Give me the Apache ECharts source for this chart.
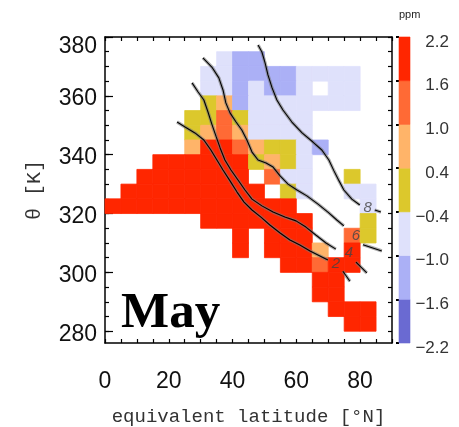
<!DOCTYPE html>
<html><head><meta charset="utf-8">
<script src="https://cdn.jsdelivr.net/npm/echarts@6/dist/echarts.min.js"></script>
<style>html,body{margin:0;padding:0;background:#fff}#c{width:459px;height:427px}</style>
</head><body><div id="c"></div>
<script>
// ---- data ----
const n = null, R = 1.9, O = 1.3, P = 0.7, Y = 0.0, L = -0.7, B = -1.3;
const latEdges = [0,5,10,15,20,25,30,35,40,45,50,55,60,65,70,75,80];
const thetaEdges = [370,365,360,355,350,345,340,335,330,325,320,315,310,305,300,295,290,285,280];
const row370 = [n,n,n,n,n,n,n,L,B,B,n,n,n,n,n,n,n];
const row365 = [n,n,n,n,n,n,L,L,B,B,B,B,L,L,L,L,n];
const row360 = [n,n,n,n,n,n,L,L,B,L,B,B,L,n,L,L,n];
const row355 = [n,n,n,n,n,n,Y,P,B,L,L,L,L,L,L,L,n];
const row350 = [n,n,n,n,n,Y,Y,O,Y,L,L,L,L,n,n,n,n];
const row345 = [n,n,n,n,n,Y,P,O,P,L,L,L,L,n,n,n,n];
const row340 = [n,n,n,n,n,P,R,R,O,P,Y,Y,L,B,n,n,n];
const row335 = [n,n,n,R,R,R,R,R,R,Y,P,Y,L,n,n,n,n];
const row330 = [n,n,R,R,R,R,R,R,R,n,O,L,L,n,n,Y,n];
const row325 = [n,R,R,R,R,R,R,R,R,R,n,Y,L,n,n,L,L];
const row320 = [R,R,R,R,R,R,R,R,R,R,R,R,n,n,n,n,L];
const row315 = [n,n,n,n,n,n,R,R,R,R,R,R,R,n,n,n,Y];
const row310 = [n,n,n,n,n,n,n,n,R,n,R,R,R,n,n,O,Y];
const row305 = [n,n,n,n,n,n,n,n,R,n,R,R,R,P,n,R,n];
const row300 = [n,n,n,n,n,n,n,n,n,n,n,R,R,O,R,R,n];
const row295 = [n,n,n,n,n,n,n,n,n,n,n,n,n,R,R,n,n];
const row290 = [n,n,n,n,n,n,n,n,n,n,n,n,n,R,R,n,n];
const row285 = [n,n,n,n,n,n,n,n,n,n,n,n,n,n,R,R,R];
const row280 = [n,n,n,n,n,n,n,n,n,n,n,n,n,n,n,R,R];
const rows = [row370,row365,row360,row355,row350,row345,row340,row335,row330,row325,row320,row315,row310,row305,row300,row295,row290,row285,row280];

const cbBounds = [-2.2,-1.6,-1.0,-0.4,0.4,1.0,1.6,2.2];
const cbLabels = ['\u22122.2','\u22121.6','\u22121.0','\u22120.4','0.4','1.0','1.6','2.2'];
const cbColors = ['#6a6ad2','#abb0f6','#dfe1fb','#dcc82c','#ffb469','#ff6a35','#ff2600'];

const xTickLabels = [0,20,40,60,80];
const yTickLabels = [280,300,320,340,360,380];
const yMinorTicks = [280,285,290,295,300,305,310,315,320,325,330,335,340,345,350,355,360,365,370,375,380];

// contour lines (lat, theta)
const contour8 = [[48.0,377.3],[49.2,374.9],[50.2,371.2],[51.1,367.1],[52.4,362.7],[53.9,358.6],[55.8,355.2],[58.6,351.1],[61.8,347.4],[65.2,344.3],[68.0,341.6],[70.2,338.2],[71.8,334.5],[73.4,331.1],[74.9,328.0],[77.4,324.9],[79.9,322.9]];
const contour8tail = [[84.6,321.2],[86.5,320.5]];
const contour6 = [[30.7,372.9],[33.5,369.8],[35.7,366.1],[37.0,362.0],[37.9,357.6],[39.2,354.2],[41.1,351.1],[42.9,348.4],[44.5,345.0],[46.1,340.9],[48.0,338.2],[50.5,337.2],[52.7,335.8],[54.9,332.8],[57.4,330.0],[60.2,328.0],[63.3,326.0],[66.8,323.2],[69.9,320.5],[72.7,317.8],[74.9,315.8]];
const contour6tail = [[80.9,309.4],[86.8,307.3]];
const contour4 = [[27.3,364.4],[29.2,361.3],[31.0,358.6],[32.3,354.5],[33.5,350.4],[34.8,346.3],[36.1,342.3],[37.6,338.2],[39.5,334.8],[41.7,331.4],[43.9,328.0],[46.1,324.9],[49.2,322.6],[52.7,320.5],[56.4,318.8],[59.9,317.5],[63.0,315.4],[66.1,312.7],[69.3,310.0],[72.4,307.9]];
const contour4tail = [[78.7,303.5],[82.1,299.8]];
const contour2 = [[22.6,351.1],[25.1,349.4],[28.2,347.4],[31.0,345.0],[33.2,341.6],[35.1,338.2],[37.0,334.8],[39.2,331.1],[41.4,327.3],[43.6,323.9],[46.1,321.2],[48.9,318.8],[51.7,316.1],[54.9,313.4],[58.0,311.0],[61.1,309.3],[64.3,307.3],[67.4,305.6],[69.9,304.2]];
const contour2tail = [[74.6,300.4],[76.8,297.0]];
const contourLabels = [[82.4,321.9,'8'],[78.7,312.4,'6'],[76.5,306.6,'4'],[72.4,302.9,'2']];

// ---- build ----
const BIN = 5;
const cells = [];
rows.forEach((row, i) => row.forEach((v, j) => { if (v !== null) cells.push([latEdges[j], thetaEdges[i], v]); }));
const pieces = cbColors.map((c, i) => ({ gte: cbBounds[i], lt: cbBounds[i + 1], color: c }));
pieces[pieces.length - 1].lte = cbBounds[cbBounds.length - 1];
const cbData = cbColors.map((c, i) => [i]);

const SANS = '"Liberation Sans", Arial, Helvetica, sans-serif';
const MONO = '"Liberation Mono", "DejaVu Sans Mono", monospace';
const tickBlack = { lineStyle: { color: '#000', width: 1.2 } };

function lineSeries(data, halo) {
  return {
    type: 'line', xAxisIndex: 0, yAxisIndex: 0, data: data, symbol: 'none', silent: true,
    z: halo ? 5 : 6, animation: false,
    lineStyle: halo ? { color: 'rgba(120,120,120,0.6)', width: 3.4 } : { color: '#000', width: 1.1 }
  };
}
const contours = [contour8, contour8tail, contour6, contour6tail, contour4, contour4tail, contour2, contour2tail];
const contourSeries = [];
contours.forEach(c => { contourSeries.push(lineSeries(c, true)); contourSeries.push(lineSeries(c, false)); });

const chart = echarts.init(document.getElementById('c'), null, { renderer: 'canvas' });
chart.setOption({
  animation: false,
  backgroundColor: '#fff',
  grid: [
    { left: 105, top: 37, width: 287, height: 306, containLabel: false, outerBoundsMode: 'none' },
    { left: 399, top: 37, width: 11, height: 306, containLabel: false, outerBoundsMode: 'none' }
  ],
  xAxis: [
    { gridIndex: 0, type: 'value', position: 'bottom', min: 0, max: 90, interval: 5,
      axisLine: { show: true, onZero: false, lineStyle: { color: '#000', width: 1.5 } },
      axisTick: { show: true, inside: true, length: 4, ...tickBlack },
      axisLabel: { customValues: xTickLabels, margin: 27, fontSize: 23, fontFamily: SANS, color: '#111' },
      splitLine: { show: false },
      name: 'equivalent latitude [\u00b0N]', nameLocation: 'middle', nameGap: 64,
      nameTextStyle: { fontFamily: MONO, fontSize: 19, color: '#333' } },
    { gridIndex: 0, type: 'value', position: 'top', min: 0, max: 90, interval: 5,
      axisLine: { show: true, onZero: false, lineStyle: { color: '#000', width: 1.5 } },
      axisTick: { show: true, inside: true, length: 4, ...tickBlack },
      axisLabel: { show: false }, splitLine: { show: false } },
    { gridIndex: 1, type: 'value', min: 0, max: 1, show: false }
  ],
  yAxis: [
    { gridIndex: 0, type: 'value', position: 'left', min: 276, max: 380,
      axisLine: { show: true, onZero: false, lineStyle: { color: '#000', width: 1.5 } },
      axisTick: { show: true, inside: true, length: 8, customValues: yTickLabels, ...tickBlack },
      axisLabel: { customValues: yTickLabels, margin: 8,
        formatter: v => (v === 380 ? '{t|' + v + '}' : '{n|' + v + '}'),
        rich: {
          t: { fontSize: 23, fontFamily: SANS, color: '#111', padding: [20, 0, 0, 0] },
          n: { fontSize: 23, fontFamily: SANS, color: '#111', padding: [6, 0, 0, 0] }
        } },
      splitLine: { show: false },
      name: '\u03b8 [K]', nameLocation: 'middle', nameRotate: 90, nameGap: 60,
      nameTextStyle: { fontFamily: MONO, fontSize: 20, color: '#333' } },
    { gridIndex: 0, type: 'value', position: 'left', min: 276, max: 380,
      axisLine: { show: false },
      axisTick: { show: true, inside: true, length: 4, customValues: yMinorTicks, ...tickBlack },
      axisLabel: { show: false }, splitLine: { show: false } },
    { gridIndex: 0, type: 'value', position: 'right', min: 276, max: 380,
      axisLine: { show: true, onZero: false, lineStyle: { color: '#000', width: 1.5 } },
      axisTick: { show: true, inside: true, length: 4, customValues: yMinorTicks, ...tickBlack },
      axisLabel: { show: false }, splitLine: { show: false } },
    { gridIndex: 1, type: 'value', position: 'right', min: 0, max: 7,
      axisLine: { show: false },
      axisTick: { show: true, inside: true, length: 3, customValues: [0,1,2,3,4,5,6,7], lineStyle: { color: '#000', width: 2 } },
      axisLabel: { customValues: [0,1,2,3,4,5,6,7], margin: 39, align: 'right',
        formatter: v => '{a|' + cbLabels[v] + '}',
        rich: { a: { fontSize: 17, fontFamily: SANS, color: '#333', padding: [10, 0, 0, 0] } } },
      splitLine: { show: false } }
  ],
  visualMap: [{ type: 'piecewise', show: false, dimension: 2, seriesIndex: 0, pieces: pieces }],
  series: [
    { type: 'custom', xAxisIndex: 0, yAxisIndex: 0, data: cells, z: 2,
      renderItem: function (params, api) {
        const lat = api.value(0), th = api.value(1);
        const a = api.coord([lat, th + BIN]);
        const b = api.coord([lat + BIN, th]);
        const col = api.visual('color');
        return { type: 'rect', shape: { x: a[0], y: a[1], width: b[0] - a[0], height: b[1] - a[1] },
          style: { fill: col, stroke: col, lineWidth: 0.8 } };
      } },
    { type: 'custom', xAxisIndex: 2, yAxisIndex: 3, data: cbData, z: 2,
      renderItem: function (params, api) {
        const i = api.value(0);
        const a = api.coord([0, i + 1]);
        const b = api.coord([1, i]);
        return { type: 'rect', shape: { x: a[0], y: a[1], width: b[0] - a[0], height: b[1] - a[1] },
          style: { fill: cbColors[i], stroke: cbColors[i], lineWidth: 0.6 } };
      } },
    ...contourSeries,
    { type: 'scatter', xAxisIndex: 0, yAxisIndex: 0, data: contourLabels, symbolSize: 0, z: 7, silent: true,
      label: { show: true, position: 'inside', formatter: p => p.data[2],
        fontSize: 15, fontStyle: 'italic', fontFamily: SANS, color: '#444' } }
  ],
  graphic: [
    { type: 'text', left: 399, top: 9, z: 10, style: { text: 'ppm', font: '11px ' + SANS, fill: '#222' } },
    { type: 'text', x: 121, y: 314, z: 10, style: { text: 'May', font: 'bold 51px "Liberation Serif", "Times New Roman", serif', fill: '#000', verticalAlign: 'middle' } }
  ]
});
</script>
</body></html>
